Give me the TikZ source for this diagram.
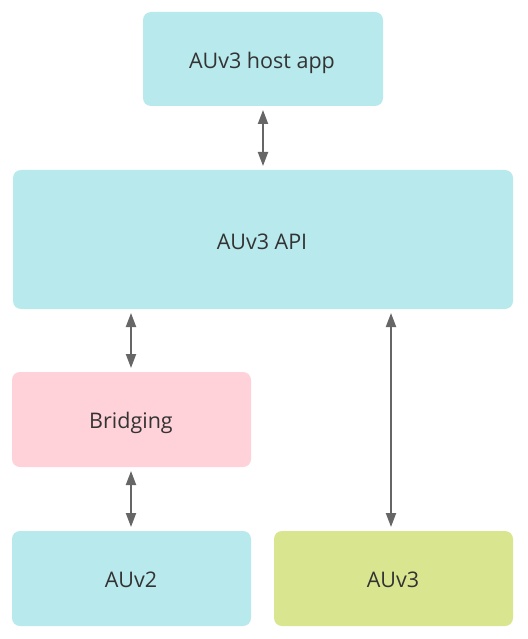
\documentclass[tikz,border=0pt]{standalone}
\usepackage{fontspec}
\setmainfont{Open Sans}
\usetikzlibrary{arrows.meta}
\definecolor{boxcyan}{HTML}{B8E9EC}
\definecolor{boxpink}{HTML}{FFD1D8}
\definecolor{boxgreen}{HTML}{D9E68F}
\definecolor{arrowgray}{HTML}{666666}
\definecolor{textgray}{HTML}{333333}
\tikzset{
  blk/.style={anchor=base, inner sep=0pt, text=textgray, font=\fontsize{21.5}{24}\selectfont},
  conn/.style={draw=arrowgray, line width=2pt, {Triangle[length=14pt,width=10pt]}-{Triangle[length=14pt,width=10pt]}, shorten <=4pt, shorten >=4pt}
}
\begin{document}
\begin{tikzpicture}[x=1pt,y=-1pt]
\useasboundingbox (0,0) rectangle (527,639);
\fill[boxcyan, rounded corners=8pt] (143,12) rectangle (383,106);
\node[blk] (host) at (262,69) {AUv3 host app};
\coordinate (hostS) at (263,106);
\fill[boxcyan, rounded corners=8pt] (13,170) rectangle (513,309);
\node[blk] (api) at (262,249.5) {AUv3 API};
\coordinate (apiN) at (263,170);
\coordinate (apiSW) at (131,309);
\coordinate (apiSE) at (391,309);
\fill[boxpink, rounded corners=8pt] (12,372) rectangle (251,467);
\node[blk] (bridge) at (131,428.5) {Bridging};
\coordinate (bridgeN) at (131,372);
\coordinate (bridgeS) at (131,467);
\fill[boxcyan, rounded corners=8pt] (12,531) rectangle (251,626);
\node[blk] (auv2) at (131,587.5) {AUv2};
\coordinate (auv2N) at (131,531);
\fill[boxgreen, rounded corners=8pt] (274,531) rectangle (513,626);
\node[blk] (auv3) at (393,587.5) {AUv3};
\coordinate (auv3N) at (391,531);
\draw[conn] (hostS) -- (apiN);
\draw[conn] (apiSW) -- (bridgeN);
\draw[conn] (bridgeS) -- (auv2N);
\draw[conn] (apiSE) -- (auv3N);
\end{tikzpicture}
\end{document}
